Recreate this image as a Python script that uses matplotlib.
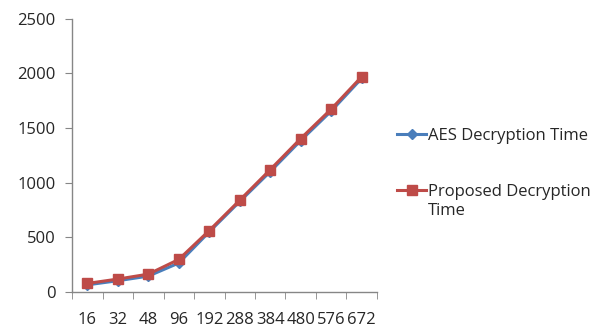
import numpy as np
import matplotlib
matplotlib.use("Agg")
import matplotlib.pyplot as plt
from matplotlib.ticker import FixedLocator

# block sizes on the x axis and decryption times for both methods
sizes = ["16", "32", "48", "96", "192", "288", "384", "480", "576", "672"]
aes_time = [62, 100, 142, 262, 548, 826, 1100, 1385, 1655, 1955]
proposed_time = [75, 115, 160, 295, 560, 838, 1118, 1403, 1673, 1970]

plt.rcParams['font.family'] = ['Open Sans', 'DejaVu Sans']
txt_color = "#262626"
axis_gray = "#868686"
fs = 12

fig = plt.figure(figsize=(6.06, 3.31), dpi=100)
ax = fig.add_axes([0.119, 0.119, 0.503, 0.824])

x = np.arange(len(sizes))
ax.plot(x, aes_time, color="#4A7EBB", lw=2.2, marker="D", ms=5,
        label="AES Decryption Time", zorder=3)
ax.plot(x, proposed_time, color="#BE4B48", lw=2.2, marker="s", ms=7,
        label="Proposed Decryption", zorder=4)

ax.set_xlim(-0.5, len(sizes) - 0.5)
ax.set_ylim(0, 2500)
ax.set_yticks(np.arange(0, 2501, 500))

ax.set_xticks(x)
ax.set_xticklabels(sizes)
ax.xaxis.set_minor_locator(FixedLocator(np.arange(-0.5, len(sizes), 1)))
ax.tick_params(axis="x", which="major", length=0, pad=15)
ax.tick_params(axis="x", which="minor", length=5, color=axis_gray, direction="out")
ax.tick_params(axis="y", length=5, color=axis_gray, direction="out", pad=7)
ax.tick_params(labelsize=fs, labelcolor=txt_color)

for side in ["top", "right"]:
    ax.spines[side].set_visible(False)
for side in ["left", "bottom"]:
    ax.spines[side].set_color(axis_gray)
    ax.spines[side].set_linewidth(1)

# legend to the right of the plot; second label wraps onto a new line
ax.legend(loc="center left", bbox_to_anchor=(397 / 606, 0.506),
          bbox_transform=fig.transFigure, frameon=False, fontsize=fs,
          labelspacing=2.4, handlelength=1.75, handletextpad=0.1,
          borderpad=0, borderaxespad=0, labelcolor=txt_color)
fig.text(428 / 606, (331 - 211) / 331, "Time", fontsize=fs, color=txt_color,
         va="center", ha="left")

fig.savefig("out.png", dpi=100)
